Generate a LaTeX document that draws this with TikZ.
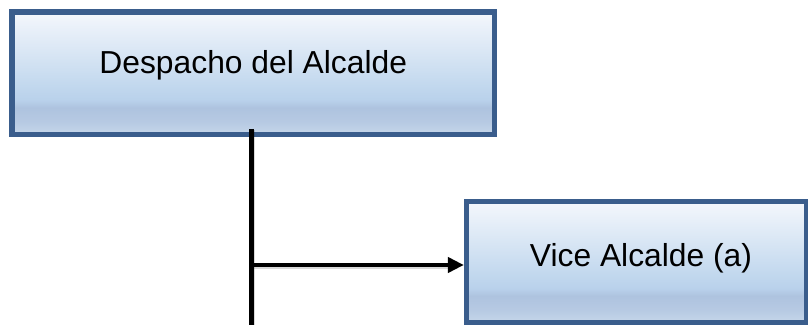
\documentclass[tikz,border=0pt]{standalone}
\usepackage{fontspec}
\setmainfont{Liberation Sans}
\usetikzlibrary{arrows.meta}
\definecolor{bordercol}{HTML}{3A5D8C}
\definecolor{gA}{HTML}{F4F7FC}
\definecolor{gB}{HTML}{C2D8EE}
\definecolor{gC}{HTML}{B9D1EB}
\definecolor{gD}{HTML}{AEC3DF}
\definecolor{gE}{HTML}{B7CAE3}
\definecolor{gF}{HTML}{C6D6EA}
\pgfdeclareverticalshading{boxshade}{100bp}{color(0bp)=(gF); color(25bp)=(gF); color(30bp)=(gE); color(36bp)=(gD); color(39bp)=(gC); color(45bp)=(gB); color(75bp)=(gA); color(100bp)=(gA)}
\begin{document}
\begin{tikzpicture}[x=1pt,y=1pt,
  orgbox/.style={draw=bordercol, line width=5.2pt, shading=boxshade, rectangle,
    inner sep=0pt, font=\fontsize{31.8}{38}\selectfont, text=black},
  conn/.style={line width=4.8pt, black},
  shadowline/.style={line width=4.8pt, black, opacity=0.15}]
\useasboundingbox (0,0) rectangle (808,324);
\node[orgbox, minimum width=482.5pt, minimum height=122.5pt,
      text height=22pt, text depth=22pt] (b1) at (253.25,250.75) {Despacho del Alcalde};
\node[orgbox, minimum width=340pt, minimum height=121pt,
      text height=22pt, text depth=12pt] (b2) at (636.5,62) {\hspace*{9pt}Vice Alcalde (a)};
\coordinate (top) at (251.5,195);
\coordinate (bot) at (251.5,-3);
\coordinate (junc) at (251.5,59);
% shadows
\draw[shadowline] ([shift={(1.5pt,-1.5pt)}]top) -- ([shift={(1.5pt,-1.5pt)}]bot);
\draw[shadowline] ([shift={(1.5pt,-1.5pt)}]junc) -- ([shift={(-16pt,-1.5pt)}]b2.west |- junc);
% connectors
\draw[conn] (top) -- (bot);
\draw[conn, -{Triangle[length=16pt,width=15pt]}] (junc) -- (b2.west |- junc);
\end{tikzpicture}
\end{document}
